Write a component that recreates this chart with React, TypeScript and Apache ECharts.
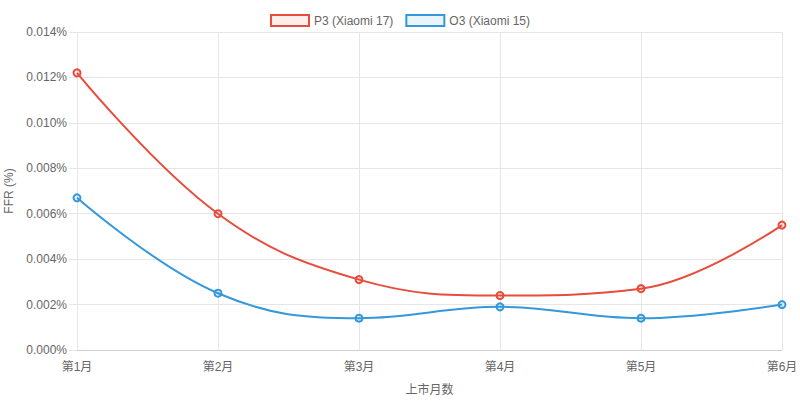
import React, { useEffect, useRef } from "react";
import * as echarts from "echarts";

const categories = ["第1月", "第2月", "第3月", "第4月", "第5月", "第6月"];
const p3Values = [0.0122, 0.006, 0.0031, 0.0024, 0.0027, 0.0055];
const o3Values = [0.0067, 0.0025, 0.0014, 0.0019, 0.0014, 0.002];
const seriesNames = ["P3 (Xiaomi 17)", "O3 (Xiaomi 15)"];

const RED = "#e74c3c";
const BLUE = "#3498db";
const FONT = "'Liberation Sans', Arial, 'Noto Sans CJK SC', sans-serif";

export default function App() {
  const ref = useRef<HTMLDivElement>(null);
  useEffect(() => {
    document.body.style.margin = "0";
    const chart = echarts.init(ref.current!, null, { renderer: "svg" });
    const gridColor = "#e6e6e6";
    chart.setOption({
      animation: false,
      textStyle: { fontFamily: FONT },
      legend: {
        top: 9,
        left: "center",
        icon: "rect",
        itemWidth: 38,
        itemHeight: 11,
        itemGap: 12,
        textStyle: { color: "#666", fontSize: 12, fontFamily: FONT },
        data: [
          {
            name: seriesNames[0],
            itemStyle: { color: "rgba(231,76,60,0.1)", borderColor: RED, borderWidth: 2 },
          },
          {
            name: seriesNames[1],
            itemStyle: { color: "rgba(52,152,219,0.1)", borderColor: BLUE, borderWidth: 2 },
          },
        ],
      },
      grid: { left: 77, right: 18, top: 32, bottom: 51, containLabel: false, outerBoundsMode: "none" },
      xAxis: {
        type: "category",
        data: categories,
        boundaryGap: false,
        name: "上市月数",
        nameLocation: "middle",
        nameGap: 34,
        nameTextStyle: { color: "#666", fontSize: 12, fontFamily: FONT },
        axisLine: { show: true, lineStyle: { color: "#d0d0d0", width: 1 } },
        axisTick: { show: false },
        axisLabel: { color: "#666", fontSize: 12, margin: 11, fontFamily: FONT },
        splitLine: { show: true, lineStyle: { color: gridColor, width: 1 } },
      },
      yAxis: {
        type: "value",
        min: 0,
        max: 0.014,
        interval: 0.002,
        name: "FFR (%)",
        nameLocation: "middle",
        nameRotate: 90,
        nameGap: 59,
        nameTextStyle: { color: "#666", fontSize: 12, fontFamily: FONT },
        axisLine: { show: true, lineStyle: { color: gridColor, width: 1 } },
        axisTick: { show: true, length: 8, lineStyle: { color: gridColor } },
        axisLabel: {
          color: "#666",
          fontSize: 12,
          margin: 10,
          fontFamily: FONT,
          formatter: (v: number) => v.toFixed(3) + "%",
        },
        splitLine: { show: true, lineStyle: { color: gridColor, width: 1 } },
      },
      series: [
        {
          name: seriesNames[0],
          type: "line",
          data: p3Values,
          smooth: 0.4,
          symbol: "circle",
          symbolSize: 7,
          lineStyle: { color: RED, width: 2 },
          itemStyle: { color: "rgba(231,76,60,0.1)", borderColor: RED, borderWidth: 2 },
          z: 3,
        },
        {
          name: seriesNames[1],
          type: "line",
          data: o3Values,
          smooth: 0.4,
          symbol: "circle",
          symbolSize: 7,
          lineStyle: { color: BLUE, width: 2 },
          itemStyle: { color: "rgba(52,152,219,0.1)", borderColor: BLUE, borderWidth: 2 },
          z: 2,
        },
      ],
    });
    return () => chart.dispose();
  }, []);
  return <div ref={ref} style={{ width: 800, height: 401 }} />;
}
